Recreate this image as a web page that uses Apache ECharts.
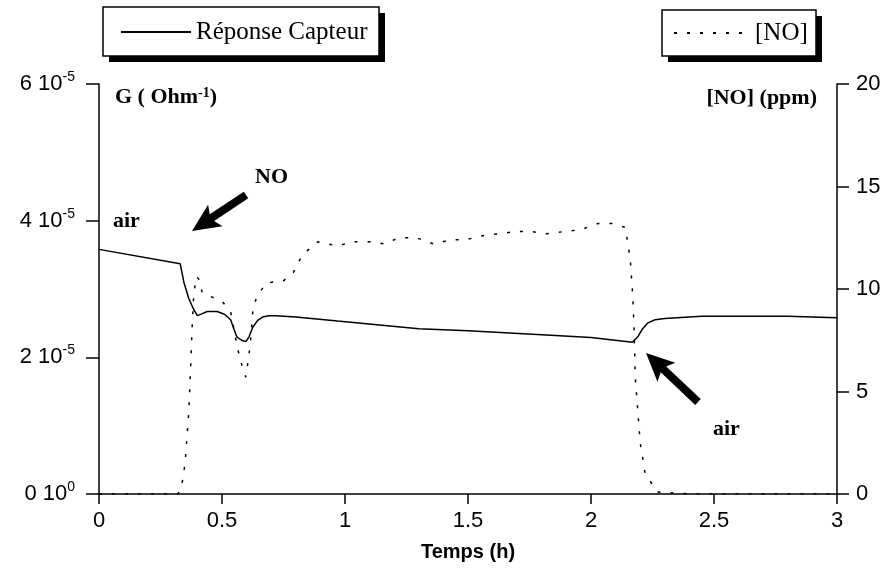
<!DOCTYPE html>
<html>
<head>
<meta charset="utf-8">
<script src="https://cdn.jsdelivr.net/npm/echarts@6/dist/echarts.min.js"></script>
<style>html,body{margin:0;padding:0;background:#fff}#c{width:888px;height:576px}</style>
</head>
<body>
<div id="c"></div>
<script>
// Time axis (h) and sensor conductance G (Ohm^-1)
const sensorTime = [0, 0.33, 0.345, 0.365, 0.385, 0.40, 0.42, 0.44, 0.48, 0.51, 0.535, 0.56, 0.58, 0.597, 0.61, 0.625, 0.645, 0.665, 0.69, 0.72, 0.8, 0.97, 1.3, 1.5, 1.8, 2.0, 2.168, 2.19, 2.21, 2.23, 2.26, 2.3, 2.35, 2.45, 2.6, 2.8, 3.0];
const sensorG = [3.58e-5, 3.37e-5, 3.1e-5, 2.86e-5, 2.7e-5, 2.61e-5, 2.64e-5, 2.67e-5, 2.67e-5, 2.63e-5, 2.55e-5, 2.3e-5, 2.25e-5, 2.23e-5, 2.3e-5, 2.44e-5, 2.54e-5, 2.59e-5, 2.61e-5, 2.61e-5, 2.59e-5, 2.53e-5, 2.42e-5, 2.39e-5, 2.33e-5, 2.29e-5, 2.22e-5, 2.3e-5, 2.42e-5, 2.5e-5, 2.55e-5, 2.57e-5, 2.58e-5, 2.6e-5, 2.6e-5, 2.6e-5, 2.58e-5];
// NO concentration (ppm)
const noTime = [0, 0.32, 0.335, 0.35, 0.365, 0.372, 0.378, 0.385, 0.395, 0.405, 0.42, 0.44, 0.5, 0.535, 0.56, 0.575, 0.597, 0.605, 0.615, 0.625, 0.64, 0.68, 0.75, 0.79, 0.81, 0.83, 0.89, 0.97, 1.03, 1.10, 1.16, 1.22, 1.29, 1.36, 1.43, 1.49, 1.56, 1.63, 1.69, 1.76, 1.82, 1.89, 1.96, 2.03, 2.09, 2.14, 2.15, 2.16, 2.17, 2.175, 2.18, 2.19, 2.20, 2.22, 2.27, 2.4, 3.0];
const noPpm = [0, 0, 0.3, 1.5, 4, 6, 8, 9.7, 10.6, 10.5, 9.8, 9.7, 9.4, 8.9, 7.3, 6.5, 5.7, 6.4, 7.3, 8.9, 9.6, 10.3, 10.4, 10.8, 11.3, 11.7, 12.3, 12.1, 12.3, 12.3, 12.2, 12.5, 12.5, 12.2, 12.4, 12.4, 12.6, 12.7, 12.8, 12.8, 12.7, 12.8, 12.9, 13.2, 13.2, 13.0, 12.2, 11.4, 9.6, 8.1, 5.7, 4.1, 2.5, 1.0, 0.1, 0, 0];
// Axis ticks
const xTicks = [0, 0.5, 1, 1.5, 2, 2.5, 3];
const gTicks = [0, 2e-5, 4e-5, 6e-5];
const noTicks = [0, 5, 10, 15, 20];

const seriesNames = ['Réponse Capteur', '[NO]'];

const chart = echarts.init(document.getElementById('c'), null, {renderer: 'canvas'});

const sans = 'Liberation Sans, Arial, sans-serif';
const serif = 'Liberation Serif, Times New Roman, serif';

function arrow(tail, tip, sw, hw, hl) {
  const dx = tip[0] - tail[0], dy = tip[1] - tail[1];
  const L = Math.sqrt(dx * dx + dy * dy);
  const ux = dx / L, uy = dy / L, nx = -uy, ny = ux;
  const hx = tip[0] - ux * hl, hy = tip[1] - uy * hl;
  return [
    [tail[0] + nx * sw, tail[1] + ny * sw],
    [hx + nx * sw, hy + ny * sw],
    [hx - ux * 4 + nx * hw, hy - uy * 4 + ny * hw],
    [tip[0], tip[1]],
    [hx - ux * 4 - nx * hw, hy - uy * 4 - ny * hw],
    [hx - nx * sw, hy - ny * sw],
    [tail[0] - nx * sw, tail[1] - ny * sw]
  ];
}

function legendBox(x, y, w, h) {
  return [
    {type: 'rect', z: -10, shape: {x: x + 6, y: y + 6, width: w, height: h}, style: {fill: '#000'}},
    {type: 'rect', z: -9, shape: {x: x, y: y, width: w, height: h}, style: {fill: '#fff', stroke: '#000', lineWidth: 1.5}}
  ];
}

const boldLabel = {fontFamily: serif, fontWeight: 'bold', fontSize: 22, fill: '#000'};

const legendCommon = {
  itemHeight: 14, itemGap: 0, selectedMode: false,
  itemStyle: {opacity: 0},
  textStyle: {fontFamily: serif, fontSize: 25, color: '#000', lineHeight: 26}
};

const option = {
  animation: false,
  backgroundColor: '#fff',
  grid: {left: 99, right: 51, top: 84, bottom: 82, containLabel: false},
  legend: [
    Object.assign({data: [seriesNames[0]], left: 103, top: 8, padding: [11, 12, 11, 17], itemWidth: 70}, legendCommon),
    Object.assign({data: [seriesNames[1]], left: 662, top: 9, padding: [11, 8, 11, 11], itemWidth: 76}, legendCommon)
  ],
  xAxis: {
    type: 'value', min: xTicks[0], max: xTicks[xTicks.length - 1], interval: 0.5,
    name: 'Temps (h)', nameLocation: 'middle', nameGap: 48,
    nameTextStyle: {fontFamily: sans, fontWeight: 'bold', fontSize: 20, color: '#000'},
    axisLine: {show: true, onZero: false, lineStyle: {color: '#000', width: 1.5}},
    axisTick: {show: true, inside: false, length: 10, lineStyle: {color: '#000', width: 1.5}},
    axisLabel: {fontFamily: sans, fontSize: 22, color: '#000', margin: 16},
    splitLine: {show: false}
  },
  yAxis: [
    {
      type: 'value', min: gTicks[0], max: gTicks[gTicks.length - 1], interval: 2e-5, position: 'left',
      axisLine: {show: true, lineStyle: {color: '#000', width: 1.5}},
      axisTick: {show: true, length: 13, lineStyle: {color: '#000', width: 1.5}},
      axisLabel: {
        margin: 24,
        formatter: function (v) {
          const m = Math.round(v / 1e-5);
          return m === 0 ? '{a|0 10}{s|0}' : '{a|' + m + ' 10}{s|-5}';
        },
        rich: {
          a: {fontFamily: sans, fontSize: 22, color: '#000', lineHeight: 28},
          s: {fontFamily: sans, fontSize: 14, color: '#000', verticalAlign: 'top', lineHeight: 16}
        }
      },
      splitLine: {show: false}
    },
    {
      type: 'value', min: noTicks[0], max: noTicks[noTicks.length - 1], interval: 5, position: 'right',
      axisLine: {show: true, lineStyle: {color: '#000', width: 1.5}},
      axisTick: {show: true, length: 12, lineStyle: {color: '#000', width: 1.5}},
      axisLabel: {fontFamily: sans, fontSize: 22, color: '#000', margin: 19},
      splitLine: {show: false}
    }
  ],
  series: [
    {
      name: seriesNames[0], type: 'line', yAxisIndex: 0, symbol: 'none', smooth: false,
      data: sensorTime.map((t, i) => [t, sensorG[i]]),
      lineStyle: {color: '#000', width: 1.5, type: 'solid'},
      itemStyle: {color: '#000'}
    },
    {
      name: seriesNames[1], type: 'line', yAxisIndex: 1, symbol: 'none', smooth: false,
      data: noTime.map((t, i) => [t, noPpm[i]]),
      lineStyle: {color: '#000', width: 1.5, type: [3, 10]},
      itemStyle: {color: '#000'}
    }
  ],
  graphic: [].concat(
    legendBox(103, 7, 276, 49),
    legendBox(662, 10, 154, 46),
    [
      {type: 'text', left: 115, top: 86, style: {
        rich: {b: boldLabel, s: {fontFamily: serif, fontWeight: 'bold', fontSize: 14, fill: '#000', verticalAlign: 'top'}},
        text: '{b|G ( Ohm}{s|-1}{b|)}'}},
      {type: 'text', right: 71, top: 87, style: Object.assign({text: '[NO] (ppm)'}, boldLabel)},
      {type: 'text', left: 113, top: 210, style: Object.assign({text: 'air'}, boldLabel)},
      {type: 'text', left: 255, top: 166, style: Object.assign({text: 'NO'}, boldLabel)},
      {type: 'text', left: 713, top: 418, style: Object.assign({text: 'air'}, boldLabel)},
      {type: 'polygon', shape: {points: arrow([246, 195], [192, 231], 4, 13, 24)}, style: {fill: '#000'}},
      {type: 'polygon', shape: {points: arrow([698, 402], [646, 353], 4, 13, 24)}, style: {fill: '#000'}}
    ]
  )
};
chart.setOption(option);
</script>
</body>
</html>
